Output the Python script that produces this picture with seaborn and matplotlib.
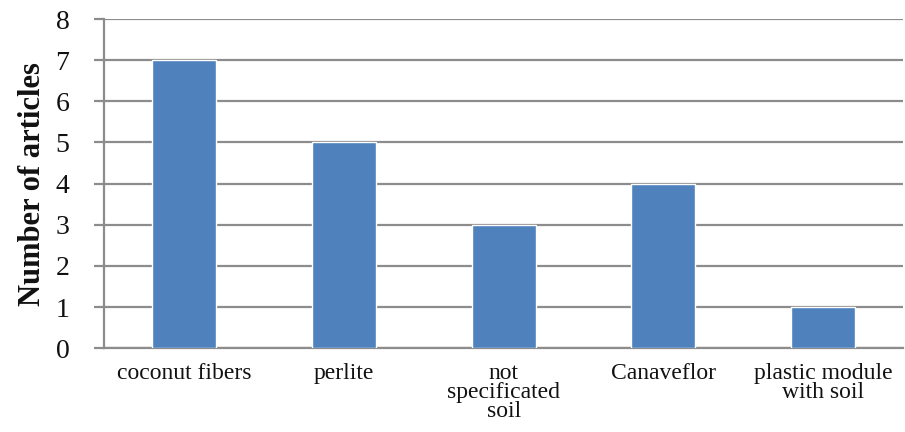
import matplotlib
matplotlib.use("Agg")
import matplotlib.pyplot as plt
import seaborn as sns
import pandas as pd

categories = ["coconut fibers", "perlite", "not\nspecificated\nsoil", "Canaveflor", "plastic module\nwith soil"]
articles = [7, 5, 3, 4, 1]
y_ticks = [0, 1, 2, 3, 4, 5, 6, 7, 8]

sns.set_theme(style="white")
plt.rcParams["font.family"] = ["Liberation Serif", "DejaVu Serif"]

df = pd.DataFrame({"substrate": categories, "articles": articles})

fig = plt.figure(figsize=(9.05, 4.32), dpi=100)
ax = fig.add_axes([0.115, 0.194, 0.883, 0.762])

sns.barplot(data=df, x="substrate", y="articles", color="#4F81BD", saturation=1,
            width=0.4, ax=ax, zorder=3)

ax.set_xlim(-0.5, len(categories) - 0.5)
ax.set_ylim(0, 8)
ax.set_yticks(y_ticks)
ax.yaxis.grid(True, color="#8C8C8C", linewidth=1.6, zorder=0)
ax.set_axisbelow(True)

for side in ["top", "right"]:
    ax.spines[side].set_visible(False)
for side in ["left", "bottom"]:
    ax.spines[side].set_color("#8C8C8C")
    ax.spines[side].set_linewidth(1.6)

# category boundary ticks on the x axis
ax.set_xticks([i - 0.5 for i in range(len(categories) + 1)], minor=True)
ax.tick_params(axis="x", which="minor", length=6, width=1.6, color="#8C8C8C", direction="out")
ax.tick_params(axis="x", which="major", length=0, pad=11, labelsize=17, labelcolor="#111111")
ax.tick_params(axis="y", which="major", length=7, width=1.6, color="#8C8C8C",
               direction="out", pad=18, labelsize=20, labelcolor="#111111", left=True)
ax.set_xticklabels(categories, linespacing=0.86)

ax.set_xlabel("")
ax.set_ylabel("Number of articles", fontsize=22, fontweight="bold", labelpad=6, color="#111111")

fig.savefig("out.png", dpi=100)
